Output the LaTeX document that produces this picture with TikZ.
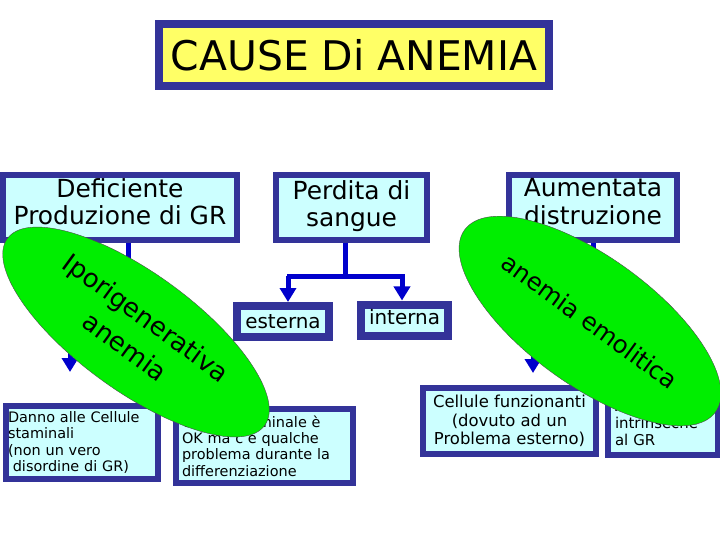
\documentclass[tikz,border=0pt]{standalone}
\usepackage{fontspec}
\setmainfont{DejaVu Sans}
\usepackage{xcolor}
\usetikzlibrary{arrows.meta,shapes.geometric}
\definecolor{navy}{HTML}{333399}
\definecolor{paleyellow}{HTML}{FFFF66}
\definecolor{palecyan}{HTML}{CCFFFF}
\definecolor{arrowblue}{HTML}{0000CC}
\definecolor{brightgreen}{HTML}{00EE00}

\begin{document}
\begin{tikzpicture}[
  x=1bp,y=-1bp,
  titlebox/.style={draw=navy,line width=8bp,fill=paleyellow,minimum width=390bp,
                   minimum height=62bp,font=\fontsize{41}{44}\selectfont},
  causebox/.style={draw=navy,line width=6bp,fill=palecyan,minimum height=65bp,
                   align=center,inner sep=0pt,text depth=12bp,
                   font=\fontsize{25}{28}\selectfont},
  kindbox/.style={draw=navy,line width=8bp,fill=palecyan,minimum height=31bp,
                  inner sep=0pt,font=\fontsize{20}{22}\selectfont},
  notebox/.style={draw=navy,line width=6bp,fill=palecyan,inner ysep=0pt,
                  font=\fontsize{14.5}{16.5}\selectfont},
  blob/.style={ellipse,draw=black!70,thin,fill=brightgreen,inner sep=0pt,
               align=center,font=\fontsize{26}{36}\selectfont},
  arr/.style={-{Triangle[width=16bp,length=14bp]},line width=5bp,color=arrowblue},
  stem/.style={line width=5bp,color=arrowblue}
]
  \useasboundingbox (0,0) rectangle (720,540);
  % title
  \node[titlebox] (title) at (354,55) {CAUSE Di ANEMIA};
  % three causes
  \node[causebox,minimum width=234bp] (defic) at (120,207.5) {Deficiente\\Produzione di GR};
  \node[causebox,minimum width=151bp,text depth=8bp] (perdita) at (351.5,207.5) {Perdita di\\sangue};
  \node[causebox,minimum width=168bp] (aument) at (593,207.5) {Aumentata\\distruzione};
  % kinds of blood loss
  \node[kindbox,minimum width=92bp] (esterna) at (283,321.5) {esterna};
  \node[kindbox,minimum width=87bp,text depth=7bp] (interna) at (404.5,320) {interna};
  % notes
  \node[notebox,minimum width=152bp,minimum height=73bp,inner xsep=2bp,
        text width=148bp,align=left,anchor=north west]
    (danno) at (3,403) {Danno alle Cellule\\staminali\\(non un vero\\\ disordine di GR)};
  \node[notebox,minimum width=177bp,minimum height=74bp,inner xsep=6bp,
        text width=165bp,align=left,anchor=north west]
    (staminale) at (173,406) {Cellula staminale è\\OK ma c'è qualche\\problema durante la\\differenziazione};
  \node[notebox,minimum width=173bp,minimum height=66bp,align=center,
        font=\fontsize{16.5}{18.5}\selectfont] (funz) at (509.5,421) {Cellule funzionanti\\(dovuto ad un\\Problema esterno)};
  \node[notebox,minimum width=110bp,minimum height=64bp,inner xsep=7bp,
        text width=96bp,align=left,anchor=north west,font=\fontsize{15}{17}\selectfont]
    (intr) at (605,388) {Anomalie\\intrinseche\\al GR};
  % tree connectors
  \coordinate (perdJoin) at (345,276);
  \draw[stem] (perdita.south -| perdJoin) -- (perdJoin);
  \draw[stem] (287,276) -- (405,276);
  \draw[arr] (288,276) -- (esterna.north -| 288,0);
  \draw[arr] (402,276) -- (interna.north -| 402,0);
  \coordinate (defJoin) at (128,320);
  \draw[stem] (defic.south -| defJoin) -- (defJoin);
  \draw[stem] (68,320) -- (188,320);
  \draw[arr] (70,320) -- (70,372);
  \draw[arr] (186,320) -- (186,372);
  \coordinate (aumJoin) at (593,320);
  \draw[stem] (aument.south) -- (aumJoin);
  \draw[stem] (531,320) -- (655,320);
  \draw[arr] (533,320) -- (533,373);
  \draw[arr] (653,320) -- (653,373);
  % overlays
  \node[blob,minimum width=318bp,minimum height=118bp,rotate=-36] (ipo) at (136,332)
    {Iporigenerativa\\anemia};
  \node[blob,minimum width=310bp,minimum height=128bp,rotate=-36,
        font=\fontsize{24.5}{30}\selectfont] (emo) at (590,321)
    {anemia emolitica};
\end{tikzpicture}
\end{document}
